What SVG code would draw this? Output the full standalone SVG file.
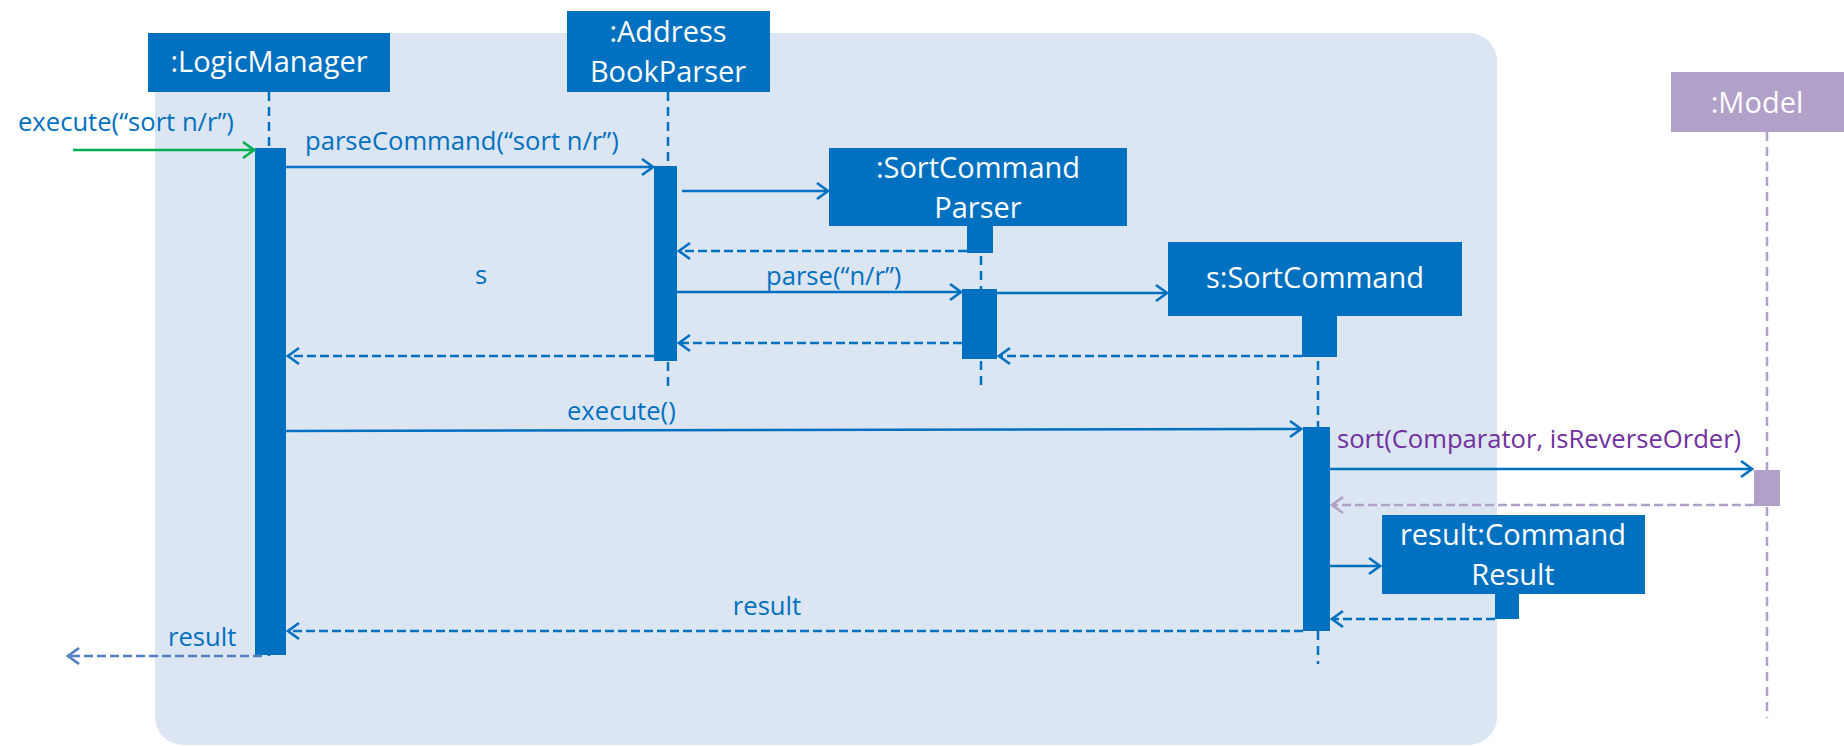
<svg xmlns="http://www.w3.org/2000/svg" width="1844" height="746" viewBox="0 0 1844 746">
<style>
.box{fill:#0070c0}
.act{fill:#0070c0}
.btxt{font-family:"Open Sans","Noto Sans",sans-serif;font-size:29px;fill:#ffffff;text-anchor:middle}
.lbl{font-family:"Open Sans","Noto Sans",sans-serif;font-size:25.6px;fill:#0070c0}
.life{stroke:#0070c0;stroke-width:2.5;stroke-dasharray:9 6;fill:none}
.msg{stroke:#0070c0;stroke-width:2.6;fill:none;marker-end:url(#ab)}
.ret{stroke:#0070c0;stroke-width:2.6;fill:none;stroke-dasharray:9 4;marker-end:url(#ab)}
</style>
<defs>
<marker id="ab" viewBox="0 0 14 20" refX="12" refY="10" markerWidth="14" markerHeight="20" markerUnits="userSpaceOnUse" orient="auto"><path d="M1,2 L12,10 L1,18" fill="none" stroke="#0070c0" stroke-width="2.6"/></marker>
<marker id="ag" viewBox="0 0 14 20" refX="12" refY="10" markerWidth="14" markerHeight="20" markerUnits="userSpaceOnUse" orient="auto"><path d="M1,2 L12,10 L1,18" fill="none" stroke="#00b050" stroke-width="2.6"/></marker>
<marker id="ap" viewBox="0 0 14 20" refX="12" refY="10" markerWidth="14" markerHeight="20" markerUnits="userSpaceOnUse" orient="auto"><path d="M1,2 L12,10 L1,18" fill="none" stroke="#b1a0c7" stroke-width="2.6"/></marker>
<marker id="ax" viewBox="0 0 14 20" refX="12" refY="10" markerWidth="14" markerHeight="20" markerUnits="userSpaceOnUse" orient="auto"><path d="M1,2 L12,10 L1,18" fill="none" stroke="#4f7fc1" stroke-width="2.6"/></marker>
</defs>
<rect id="panel" x="155" y="33" width="1342" height="712" rx="28" fill="#dce6f2"/>

<g id="logicManager">
<line class="life" x1="269" y1="92" x2="269" y2="662"/>
<rect class="box" x="148" y="33" width="242" height="59"/>
<text class="btxt" x="269" y="72">:LogicManager</text>
<rect class="act" x="255" y="148" width="31" height="507"/>
</g>

<g id="addressBookParser">
<line class="life" x1="668" y1="92" x2="668" y2="389"/>
<rect class="box" x="567" y="11" width="203" height="81"/>
<text class="btxt" x="668" y="42">:Address</text>
<text class="btxt" x="668" y="82">BookParser</text>
<rect class="act" x="654" y="166" width="23" height="195"/>
</g>

<g id="sortCommandParser">
<line class="life" x1="981" y1="226" x2="981" y2="386"/>
<rect class="box" x="829" y="148" width="298" height="78"/>
<text class="btxt" x="978" y="178">:SortCommand</text>
<text class="btxt" x="978" y="218">Parser</text>
<rect class="act" x="967" y="226" width="26" height="27"/>
<rect class="act" x="962" y="289" width="35" height="70"/>
</g>

<g id="sortCommand">
<line class="life" x1="1318" y1="316" x2="1318" y2="664"/>
<rect class="box" x="1168" y="242" width="294" height="74"/>
<text class="btxt" x="1315" y="288">s:SortCommand</text>
<rect class="act" x="1302" y="315" width="35" height="42"/>
<rect class="act" x="1303" y="427" width="27" height="204"/>
</g>

<g id="commandResult">
<rect class="box" x="1382" y="515" width="263" height="79"/>
<text class="btxt" x="1513" y="545">result:Command</text>
<text class="btxt" x="1513" y="585">Result</text>
<rect class="act" x="1495" y="593" width="24" height="26"/>
</g>

<g id="model">
<line x1="1767" y1="132" x2="1767" y2="718" stroke="#b1a0c7" stroke-width="2.5" stroke-dasharray="9 6"/>
<rect x="1671" y="72" width="173" height="60" fill="#b1a0c7"/>
<text class="btxt" x="1757" y="113">:Model</text>
<rect x="1754" y="470" width="26" height="36" fill="#b1a0c7"/>
</g>

<g id="connectors">
<line x1="73" y1="150" x2="254" y2="150" stroke="#00b050" stroke-width="2.6" marker-end="url(#ag)"/>
<line class="msg" x1="286" y1="167" x2="653" y2="167"/>
<line class="msg" x1="682" y1="191" x2="828" y2="191"/>
<line class="ret" x1="967" y1="251" x2="679" y2="251"/>
<line class="msg" x1="677" y1="292" x2="961" y2="292"/>
<line class="msg" x1="997" y1="293" x2="1167" y2="293"/>
<line class="ret" x1="1302" y1="356" x2="999" y2="356"/>
<line class="ret" x1="962" y1="343" x2="679" y2="343"/>
<line class="ret" x1="654" y1="356" x2="288" y2="356"/>
<line class="msg" x1="286" y1="431" x2="1301" y2="429"/>
<line class="msg" x1="1330" y1="469" x2="1752" y2="469"/>
<line x1="1754" y1="505" x2="1332" y2="505" stroke="#b1a0c7" stroke-width="2.6" stroke-dasharray="9 4" marker-end="url(#ap)"/>
<line class="msg" x1="1330" y1="566" x2="1380" y2="566"/>
<line class="ret" x1="1495" y1="619" x2="1332" y2="619"/>
<line class="ret" x1="1303" y1="631" x2="288" y2="631"/>
<line x1="262" y1="656" x2="68" y2="656" stroke="#4f7fc1" stroke-width="2.6" stroke-dasharray="9 4" marker-end="url(#ax)"/>
<text class="lbl" x="18" y="131">execute(“sort n/r”)</text>
<text class="lbl" x="305" y="150">parseCommand(“sort n/r”)</text>
<text class="lbl" x="481" y="284" text-anchor="middle">s</text>
<text class="lbl" x="766" y="285">parse(“n/r”)</text>
<text class="lbl" x="567" y="420">execute()</text>
<text class="lbl" x="1337" y="448" style="fill:#7030a0">sort(Comparator, isReverseOrder)</text>
<text class="lbl" x="767" y="615" text-anchor="middle">result</text>
<text class="lbl" x="168" y="646">result</text>
</g>
</svg>
